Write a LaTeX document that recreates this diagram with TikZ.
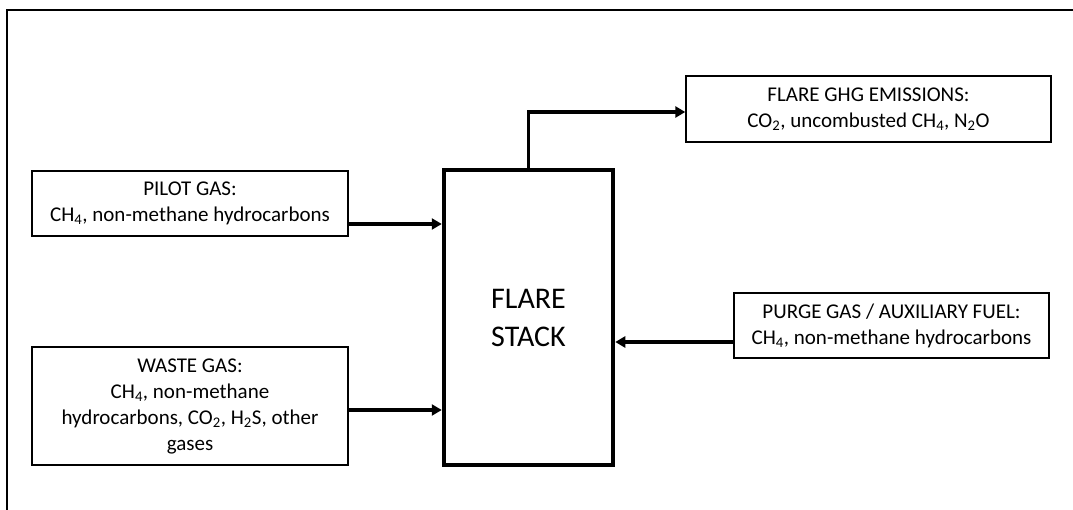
\documentclass[tikz,border=0pt]{standalone}
\usepackage{fontspec}
\setmainfont{Carlito}
\usetikzlibrary{arrows.meta}
\begin{document}
\begin{tikzpicture}[x=1pt,y=-1pt,
  infobox/.style={draw=black,line width=1.4pt,rectangle,inner sep=0pt,align=center,
    font=\fontsize{21}{26}\selectfont},
  stackbox/.style={draw=black,line width=4.5pt,rectangle,inner sep=0pt,align=center,
    font=\fontsize{30}{38}\selectfont,minimum width=169pt,minimum height=295pt},
  flow/.style={line width=3.5pt,-{Triangle[length=10pt,width=11pt]}},
  frameline/.style={line width=1.8pt}]
\useasboundingbox (0,0) rectangle (1073,510);
% partial outer frame
\coordinate (ftl) at (7,10);
\coordinate (ftr) at (1073,10);
\coordinate (fbl) at (7,510);
\draw[frameline] (fbl) -- (ftl) -- (ftr);
% nodes
\node[stackbox] (stack) at (528.5,317.5) {FLARE\\STACK};
\node[infobox,minimum width=316pt,minimum height=65pt] (pilot) at (190,203.5)
  {PILOT GAS:\\CH\textsubscript{4}, non-methane hydrocarbons};
\node[infobox,minimum width=316pt,minimum height=118pt] (waste) at (190,406)
  {WASTE GAS:\\CH\textsubscript{4}, non-methane\\hydrocarbons, CO\textsubscript{2}, H\textsubscript{2}S, other\\gases};
\node[infobox,minimum width=365pt,minimum height=66pt] (emis) at (868.5,109)
  {FLARE GHG EMISSIONS:\\CO\textsubscript{2}, uncombusted CH\textsubscript{4}, N\textsubscript{2}O};
\node[infobox,minimum width=315pt,minimum height=65pt] (purge) at (891.5,325.5)
  {PURGE GAS / AUXILIARY FUEL:\\CH\textsubscript{4}, non-methane hydrocarbons};
% connector levels
\coordinate (pa) at (0,224);
\coordinate (wa) at (0,410);
\coordinate (ua) at (0,342);
\coordinate (ea) at (0,112);
% connectors
\draw[flow] (pilot.east |- pa) -- (stack.west |- pa);
\draw[flow] (waste.east |- wa) -- (stack.west |- wa);
\draw[flow] (purge.west |- ua) -- (stack.east |- ua);
\draw[flow] (stack.north) |- (emis.west |- ea);
\end{tikzpicture}
\end{document}
